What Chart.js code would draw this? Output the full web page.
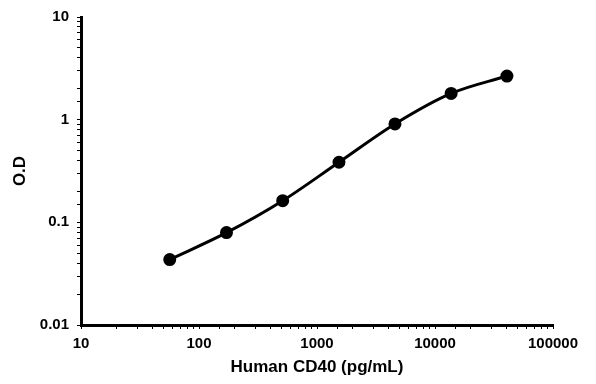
<!DOCTYPE html>
<html>
<head>
<meta charset="utf-8">
<script src="https://cdn.jsdelivr.net/npm/chart.js@4/dist/chart.umd.min.js"></script>
<style>
  html, body { margin: 0; padding: 0; background: #fff; }
  #wrap { width: 596px; height: 384px; }
</style>
</head>
<body>
<div id="wrap"><canvas id="graphique"></canvas></div>
<script>
// concentration (pg/mL) et densité optique
const concentrations = [56.5, 171, 512, 1535, 4580, 13700, 40700];
const densites = [0.0434, 0.0794, 0.1625, 0.385, 0.908, 1.80, 2.66];

const xMin = 10, xMax = 100000;
const yMin = 0.01, yMax = 10;

const police = "Arial, 'Liberation Sans', sans-serif";

function estPuissance10(v) {
  const l = Math.log10(v);
  return Math.abs(l - Math.round(l)) < 1e-6;
}

const ctx = document.getElementById("graphique").getContext("2d");
const chart = new Chart(ctx, {
  type: "line",
  data: {
    datasets: [{
      label: "CD40",
      data: concentrations.map((x, i) => ({ x: x, y: densites[i] })),
      borderColor: "#000",
      backgroundColor: "#000",
      borderWidth: 3,
      pointRadius: 5,
      pointHoverRadius: 5,
      tension: 0.4,
      cubicInterpolationMode: "monotone",
      fill: false,
    }],
  },
  options: {
    responsive: true,
    maintainAspectRatio: false,
    animation: false,
    layout: { padding: { top: 16, right: 43, left: 0, bottom: 0 } },
    plugins: { legend: { display: false }, tooltip: { enabled: false } },
    scales: {
      x: {
        type: "logarithmic",
        min: xMin,
        max: xMax,
        afterFit: (s) => { s.height = 59; },
        border: { display: true, color: "#000", width: 3 },
        grid: { drawOnChartArea: false, drawTicks: true, tickLength: 4, color: "#000", lineWidth: 1 },
        ticks: {
          autoSkip: false,
          maxRotation: 0,
          padding: 6,
          color: "#000",
          font: { family: police, size: 15, weight: "bold" },
          callback: (v) => (estPuissance10(v) ? String(v) : ""),
        },
        title: {
          display: true,
          text: "Human CD40 (pg/mL)",
          color: "#000",
          padding: { top: 0, bottom: 6 },
          font: { family: police, size: 17, weight: "bold" },
        },
      },
      y: {
        type: "logarithmic",
        min: yMin,
        max: yMax,
        afterFit: (s) => { s.width = 81; },
        border: { display: true, color: "#000", width: 3 },
        grid: { drawOnChartArea: false, drawTicks: true, tickLength: 4, color: "#000", lineWidth: 1 },
        ticks: {
          autoSkip: false,
          padding: 8,
          color: "#000",
          font: { family: police, size: 15, weight: "bold" },
          callback: (v) => (estPuissance10(v) ? String(v) : ""),
        },
        title: {
          display: true,
          text: "O.D",
          color: "#000",
          padding: { top: 10, bottom: 0 },
          font: { family: police, size: 17, weight: "bold" },
        },
      },
    },
  },
});
</script>
</body>
</html>
